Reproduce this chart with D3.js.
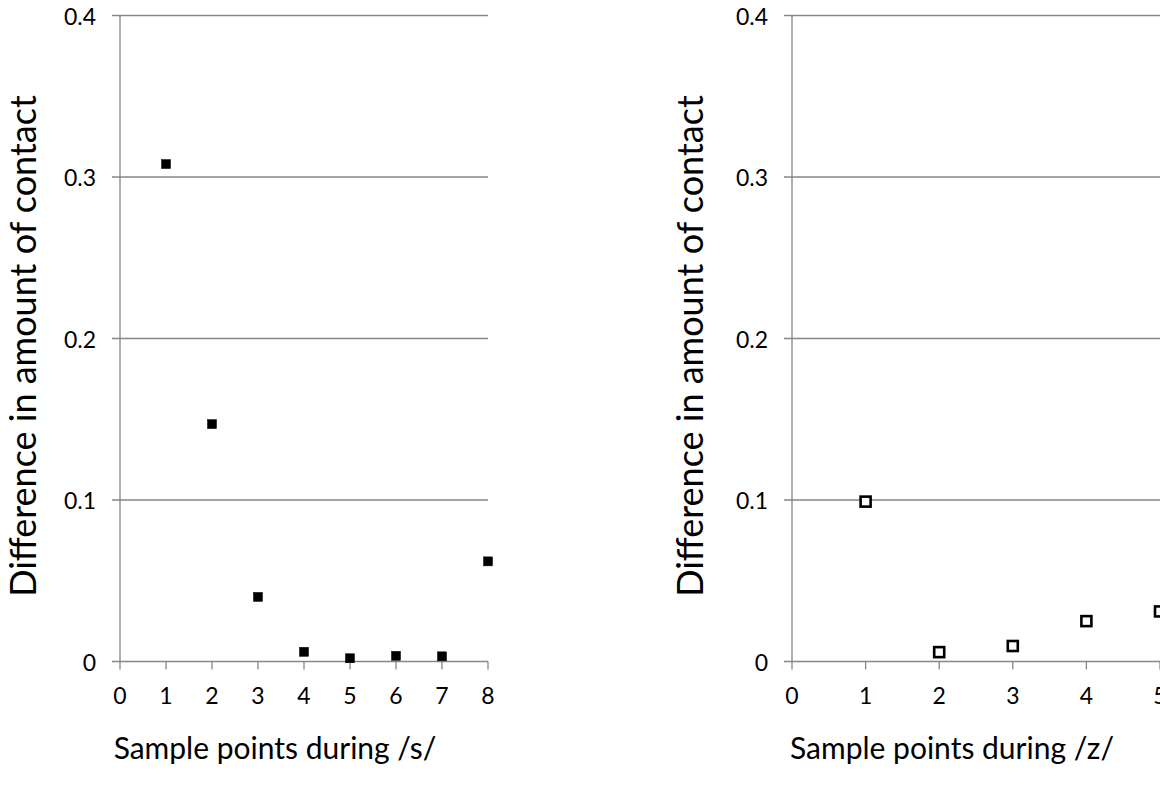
<!DOCTYPE html>
<html>
<head>
<meta charset="utf-8">
<script src="https://cdn.jsdelivr.net/npm/d3@7"></script>
<style>
  body { margin: 0; background: #fff; }
  svg text { font-family: Lato, "Open Sans", sans-serif; fill: #000; }
</style>
</head>
<body>
<svg id="chart" width="1160" height="792"></svg>
<script>
// values
const samplesS = [1, 2, 3, 4, 5, 6, 7, 8];
const diffS = [0.308, 0.147, 0.040, 0.006, 0.002, 0.0035, 0.0032, 0.062];
const samplesZ = [1, 2, 3, 4, 5];
const diffZ = [0.099, 0.0058, 0.0096, 0.025, 0.031];
const yTicks = [0, 0.1, 0.2, 0.3, 0.4];
const yTickLabels = ["0", "0.1", "0.2", "0.3", "0.4"];
const yTitle = "Difference in amount of contact";

const svg = d3.select("#chart");
const grid = "#868686";

function panel(opts) {
  const x = d3.scaleLinear().domain(opts.xDomain).range([opts.left, opts.right]);
  const y = d3.scaleLinear().domain([0, 0.4]).range([661.5, 15.5]);
  const g = svg.append("g");

  // horizontal gridlines (incl. the zero line), reaching left as ticks
  g.append("g").selectAll("line")
    .data(yTicks)
    .enter().append("line")
      .attr("x1", opts.left - 8)
      .attr("x2", opts.right)
      .attr("y1", d => y(d))
      .attr("y2", d => y(d))
      .attr("stroke", grid)
      .attr("stroke-width", 1.3);

  // vertical axis
  g.append("line")
    .attr("x1", opts.left).attr("x2", opts.left)
    .attr("y1", y(0.4)).attr("y2", y(0))
    .attr("stroke", grid).attr("stroke-width", 1.3);

  // x ticks
  const xt = d3.range(opts.xDomain[0], opts.xDomain[1] + 1);
  g.append("g").selectAll("line")
    .data(xt)
    .enter().append("line")
      .attr("x1", d => x(d)).attr("x2", d => x(d))
      .attr("y1", y(0)).attr("y2", y(0) + 8)
      .attr("stroke", grid).attr("stroke-width", 1.3);

  g.append("g").selectAll("text")
    .data(xt)
    .enter().append("text")
      .attr("x", d => x(d))
      .attr("y", 695)
      .attr("text-anchor", "middle")
      .attr("dominant-baseline", "central")
      .attr("font-size", 23)
      .text(d => d);

  g.append("g").selectAll("text")
    .data(yTicks)
    .enter().append("text")
      .attr("x", opts.left - 24)
      .attr("y", d => y(d))
      .attr("text-anchor", "end")
      .attr("dominant-baseline", "central")
      .attr("font-size", 23)
      .text((d, i) => yTickLabels[i]);

  // axis titles
  g.append("text")
    .attr("transform", `translate(${opts.yTitleX},346) rotate(-90)`)
    .attr("text-anchor", "middle")
    .attr("dominant-baseline", "central")
    .attr("font-size", 36)
    .text(yTitle);

  g.append("text")
    .attr("x", opts.xTitleX)
    .attr("y", 747)
    .attr("text-anchor", "middle")
    .attr("dominant-baseline", "central")
    .attr("font-size", 30)
    .text(opts.xTitle);

  // markers
  const pts = opts.xs.map((d, i) => ({x: d, y: opts.ys[i]}));
  g.append("g").selectAll("rect")
    .data(pts)
    .enter().append("rect")
      .attr("x", d => x(d.x) - opts.size / 2)
      .attr("y", d => y(d.y) - opts.size / 2)
      .attr("width", opts.size)
      .attr("height", opts.size)
      .attr("fill", opts.fill)
      .attr("stroke", "#000")
      .attr("stroke-width", opts.strokeWidth);
}

panel({
  left: 120, right: 488, xDomain: [0, 8],
  xs: samplesS, ys: diffS,
  xTitle: "Sample points during /s/", xTitleX: 275, yTitleX: 22,
  fill: "#000", size: 9, strokeWidth: 0.5
});

panel({
  left: 792, right: 1160, xDomain: [0, 5],
  xs: samplesZ, ys: diffZ,
  xTitle: "Sample points during /z/", xTitleX: 952, yTitleX: 689,
  fill: "#fff", size: 10, strokeWidth: 2.6
});
</script>
</body>
</html>
